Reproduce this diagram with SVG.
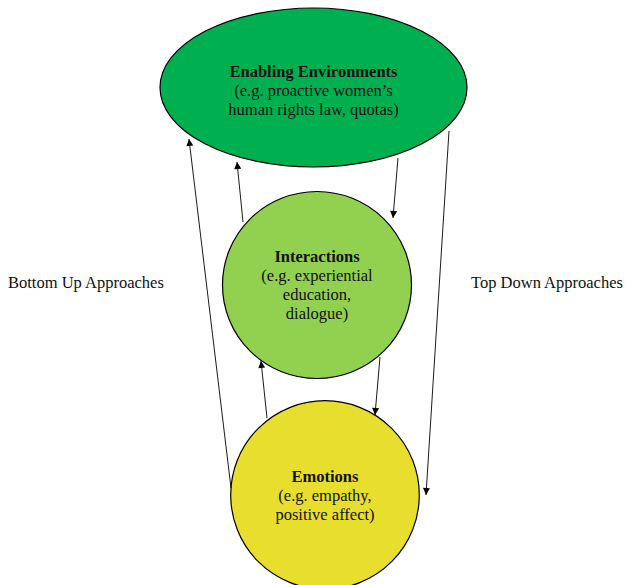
<svg xmlns="http://www.w3.org/2000/svg" width="625" height="585" viewBox="0 0 625 585">
  <style>
    .node { stroke: #000; stroke-width: 1.2; }
    .lbl { font-family: "Liberation Serif", "Times New Roman", serif; font-size: 16.5px; fill: #111; text-anchor: middle; }
    .side { font-family: "Liberation Serif", "Times New Roman", serif; font-size: 16.5px; fill: #111; }
    .b { font-weight: bold; }
    .conn line { stroke: #000; stroke-width: 0.9; fill: none; marker-end: url(#head); }
  </style>
  <defs>
    <marker id="head" viewBox="0 0 10 10" refX="10" refY="5" markerWidth="9" markerHeight="7" markerUnits="userSpaceOnUse" orient="auto">
      <path d="M0,0 L10,5 L0,10 Z" fill="#000"/>
    </marker>
  </defs>
  <rect width="625" height="585" fill="#fff"/>

  <g id="enabling-environments">
    <ellipse class="node" cx="313.5" cy="87.5" rx="153.5" ry="79.5" fill="#00B050"/>
    <text class="lbl b" x="313.5" y="77">Enabling Environments</text>
    <text class="lbl" x="313.5" y="96">(e.g. proactive women’s</text>
    <text class="lbl" x="313.5" y="115">human rights law, quotas)</text>
  </g>

  <g id="interactions">
    <ellipse class="node" cx="317" cy="285" rx="94.5" ry="93.5" fill="#92D050"/>
    <text class="lbl b" x="317" y="262">Interactions</text>
    <text class="lbl" x="317" y="281">(e.g. experiential</text>
    <text class="lbl" x="317" y="300">education,</text>
    <text class="lbl" x="317" y="319">dialogue)</text>
  </g>

  <g id="emotions">
    <ellipse class="node" cx="325" cy="495" rx="94.3" ry="94.3" fill="#E8DE2E"/>
    <text class="lbl b" x="325" y="482">Emotions</text>
    <text class="lbl" x="325" y="501">(e.g. empathy,</text>
    <text class="lbl" x="325" y="520">positive affect)</text>
  </g>

  <g class="conn" id="connectors">
    <!-- bottom-up -->
    <line x1="231" y1="488" x2="189" y2="139"/>
    <line x1="243" y1="222" x2="237" y2="162"/>
    <line x1="267" y1="418" x2="261" y2="361"/>
    <!-- top-down -->
    <line x1="398" y1="158" x2="393" y2="218"/>
    <line x1="380" y1="357" x2="375" y2="415"/>
    <line x1="449" y1="131" x2="426" y2="495"/>
  </g>

  <g id="side-labels">
    <text class="side" x="8" y="288">Bottom Up Approaches</text>
    <text class="side" x="471" y="288">Top Down Approaches</text>
  </g>
</svg>
